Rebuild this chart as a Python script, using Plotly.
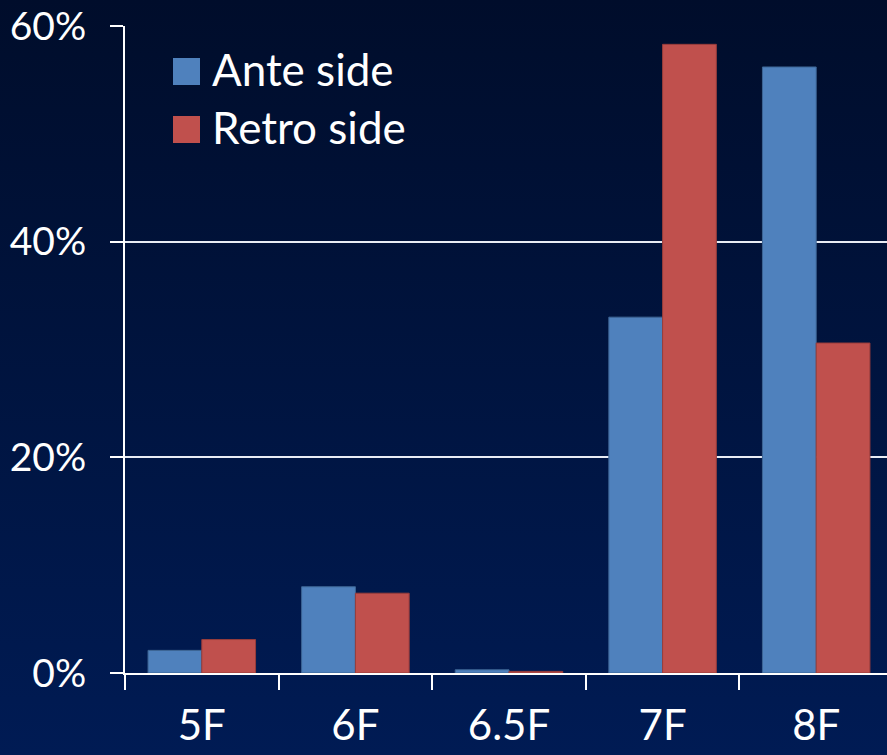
import base64
import plotly.graph_objects as go

# Catheter size distribution by approach side
categories = ["5F", "6F", "6.5F", "7F", "8F"]
ante_side = [2.1, 8.0, 0.3, 33.0, 56.2]
retro_side = [3.1, 7.4, 0.15, 58.3, 30.6]
y_ticks = [0, 20, 40, 60]
y_tick_labels = ["0%", "20%", "40%", "60%"]

BLUE = "#4f81bd"
RED = "#c0504d"
FONT = "Lato"

W, H = 887, 755
M_L, M_R, M_T, M_B = 125, 0, 26, 82
PW, PH = W - M_L - M_R, H - M_T - M_B

# Vertical navy gradient used as the page background
svg = (
    '<svg xmlns="http://www.w3.org/2000/svg" width="10" height="100" preserveAspectRatio="none">'
    '<defs><linearGradient id="g" x1="0" y1="0" x2="0" y2="1">'
    '<stop offset="0" stop-color="#000d2b"/>'
    '<stop offset="1" stop-color="#001b54"/>'
    '</linearGradient></defs>'
    '<rect width="10" height="100" fill="url(#g)"/></svg>'
)
bg_src = "data:image/svg+xml;base64," + base64.b64encode(svg.encode()).decode()


def px_x(px):
    return (px - M_L) / PW


def px_y(py):
    return (H - M_B - py) / PH


fig = go.Figure()
fig.add_trace(go.Bar(
    name="Ante side", x=categories, y=ante_side,
    marker=dict(color=BLUE, line=dict(color="#3d6594", width=1)),
    showlegend=False,
))
fig.add_trace(go.Bar(
    name="Retro side", x=categories, y=retro_side,
    marker=dict(color=RED, line=dict(color="#983d3b", width=1)),
    showlegend=False,
))

# Legend drawn as large swatches with text labels
legend_items = [("Ante side", BLUE, 58, 85), ("Retro side", RED, 116, 143)]
shapes = []
annotations = []
for label, color, top, bottom in legend_items:
    shapes.append(dict(
        type="rect", xref="paper", yref="paper",
        x0=px_x(173), x1=px_x(200), y0=px_y(bottom), y1=px_y(top),
        fillcolor=color, line=dict(width=0), layer="above",
    ))
    annotations.append(dict(
        text=label, xref="paper", yref="paper",
        x=px_x(210), y=px_y((top + bottom) / 2 - 2),
        xanchor="left", yanchor="middle", showarrow=False,
        font=dict(family=FONT, size=44, color="white"),
    ))

fig.update_layout(
    width=W, height=H,
    margin=dict(l=M_L, r=M_R, t=M_T, b=M_B, pad=0, autoexpand=False),
    paper_bgcolor="#000f30",
    plot_bgcolor="rgba(0,0,0,0)",
    barmode="group",
    bargap=0.3,
    bargroupgap=0,
    showlegend=False,
    shapes=shapes,
    annotations=annotations,
    images=[dict(
        source=bg_src, xref="paper", yref="paper",
        x=px_x(0), y=px_y(0), sizex=W / PW, sizey=H / PH,
        xanchor="left", yanchor="top", sizing="stretch", layer="below",
    )],
    font=dict(family=FONT, color="white"),
    xaxis=dict(
        range=[-0.5, 4.461],
        automargin=False,
        showgrid=False,
        showline=True, linecolor="white", linewidth=2,
        ticks="outside", tickson="boundaries", ticklen=15,
        tickcolor="white", tickwidth=2,
        tickfont=dict(family=FONT, size=42, color="white"),
        ticklabelstandoff=15,
        zeroline=False,
    ),
    yaxis=dict(
        range=[0, 60],
        automargin=False,
        tickvals=y_ticks, ticktext=y_tick_labels,
        showgrid=True, gridcolor="#e8ecf4", gridwidth=2,
        showline=True, linecolor="white", linewidth=2,
        ticks="outside", ticklen=13, tickcolor="white", tickwidth=2,
        tickfont=dict(family=FONT, size=39, color="white"),
        ticklabelstandoff=16,
        zeroline=False,
    ),
)

fig.write_html("out.html")
